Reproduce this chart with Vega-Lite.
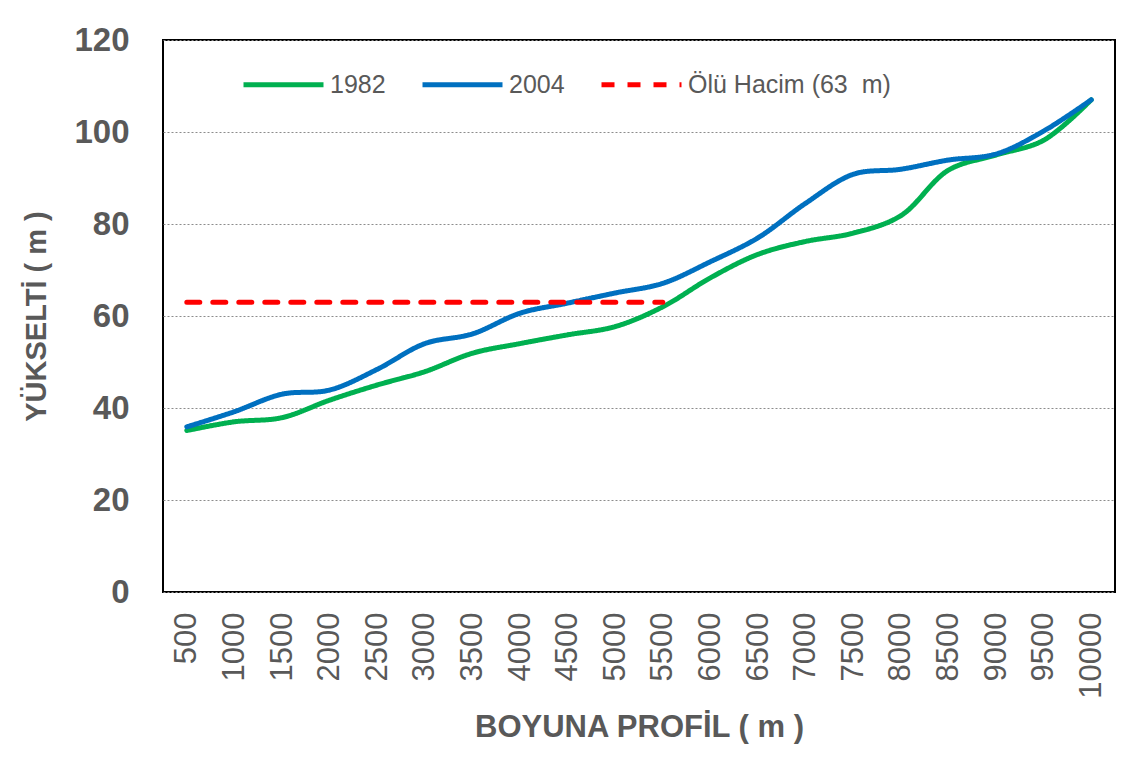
{
  "$schema": "https://vega.github.io/schema/vega-lite/v6.json",
  "autosize": "none",
  "width": 952,
  "height": 552,
  "padding": {"left": 163, "top": 40, "right": 22, "bottom": 181},
  "background": "white",
  "config": {
    "view": {"stroke": "black", "strokeWidth": 2},
    "font": "Liberation Sans"
  },
  "data": {
    "values": [
      {"x": 500, "s": "1982", "y": 35.1}, {"x": 1000, "s": "1982", "y": 37.0}, {"x": 1500, "s": "1982", "y": 37.9}, {"x": 2000, "s": "1982", "y": 41.7},
      {"x": 2500, "s": "1982", "y": 45.0}, {"x": 3000, "s": "1982", "y": 47.9}, {"x": 3500, "s": "1982", "y": 51.9}, {"x": 4000, "s": "1982", "y": 54.0},
      {"x": 4500, "s": "1982", "y": 55.9}, {"x": 5000, "s": "1982", "y": 57.7}, {"x": 5500, "s": "1982", "y": 62.0}, {"x": 6000, "s": "1982", "y": 68.3},
      {"x": 6500, "s": "1982", "y": 73.4}, {"x": 7000, "s": "1982", "y": 76.2}, {"x": 7500, "s": "1982", "y": 78.0}, {"x": 8000, "s": "1982", "y": 81.8},
      {"x": 8500, "s": "1982", "y": 91.7}, {"x": 9000, "s": "1982", "y": 95.0}, {"x": 9500, "s": "1982", "y": 98.2}, {"x": 10000, "s": "1982", "y": 107.0},
      {"x": 500, "s": "2004", "y": 35.9}, {"x": 1000, "s": "2004", "y": 39.2}, {"x": 1500, "s": "2004", "y": 43.0}, {"x": 2000, "s": "2004", "y": 43.9},
      {"x": 2500, "s": "2004", "y": 48.4}, {"x": 3000, "s": "2004", "y": 54.0}, {"x": 3500, "s": "2004", "y": 56.1}, {"x": 4000, "s": "2004", "y": 60.6},
      {"x": 4500, "s": "2004", "y": 62.8}, {"x": 5000, "s": "2004", "y": 65.0}, {"x": 5500, "s": "2004", "y": 67.1}, {"x": 6000, "s": "2004", "y": 71.8},
      {"x": 6500, "s": "2004", "y": 77.0}, {"x": 7000, "s": "2004", "y": 84.5}, {"x": 7500, "s": "2004", "y": 90.8}, {"x": 8000, "s": "2004", "y": 91.9},
      {"x": 8500, "s": "2004", "y": 93.9}, {"x": 9000, "s": "2004", "y": 95.2}, {"x": 9500, "s": "2004", "y": 100.2}, {"x": 10000, "s": "2004", "y": 107.0},
      {"x": 500, "s": "Ölü Hacim (63 \u00a0m)", "y": 63}, {"x": 5500, "s": "Ölü Hacim (63 \u00a0m)", "y": 63}
    ]
  },
  "mark": {"type": "line", "interpolate": "catmull-rom", "strokeWidth": 5, "strokeCap": "round"},
  "encoding": {
    "x": {
      "field": "x", "type": "ordinal",
      "scale": {"type": "point", "padding": 0.5},
      "axis": {
        "title": "BOYUNA PROFİL ( m )",
        "titleFont": "Liberation Sans", "titleFontSize": 31, "titleFontWeight": "bold", "titleColor": "#595959",
        "titlePadding": 14,
        "labelAngle": -90, "labelFontSize": 31, "labelColor": "#595959", "labelPadding": 20,
        "labelFont": "Liberation Sans",
        "domain": false, "ticks": false, "grid": false
      }
    },
    "y": {
      "field": "y", "type": "quantitative",
      "scale": {"domain": [0, 120], "nice": false, "zero": true},
      "axis": {
        "title": "YÜKSELTİ ( m )",
        "values": [0, 20, 40, 60, 80, 100, 120],
        "titleFont": "Liberation Sans", "titleFontSize": 29, "titleFontWeight": "bold", "titleColor": "#595959",
        "titlePadding": 22,
        "labelFont": "Liberation Sans", "labelFontSize": 33, "labelFontWeight": "bold", "labelColor": "#595959", "labelPadding": 34,
        "domain": false, "ticks": false,
        "grid": true, "gridColor": "#8c8c8c", "gridDash": [2, 2], "gridWidth": 1
      }
    },
    "color": {
      "field": "s", "type": "nominal",
      "scale": {"domain": ["1982", "2004", "Ölü Hacim (63 \u00a0m)"], "range": ["#00B050", "#0070C0", "#FF0000"]},
      "legend": {
        "title": null, "orient": "none", "legendX": 78, "legendY": 2, "direction": "horizontal",
        "symbolType": "stroke", "symbolSize": 6400, "symbolStrokeWidth": 5,
        "labelFontSize": 25, "labelColor": "#595959", "labelFont": "Liberation Sans", "labelOffset": 4, "labelLimit": 400,
        "columnPadding": 26
      }
    },
    "strokeDash": {
      "field": "s", "type": "nominal",
      "scale": {"domain": ["1982", "2004", "Ölü Hacim (63 \u00a0m)"], "range": [[1, 0], [1, 0], [13, 13]]},
      "legend": {
        "title": null, "orient": "none", "legendX": 78, "legendY": 2, "direction": "horizontal",
        "symbolType": "stroke", "symbolSize": 6400, "symbolStrokeWidth": 5,
        "labelFontSize": 25, "labelColor": "#595959", "labelFont": "Liberation Sans", "labelOffset": 4, "labelLimit": 400,
        "columnPadding": 26
      }
    }
  }
}
